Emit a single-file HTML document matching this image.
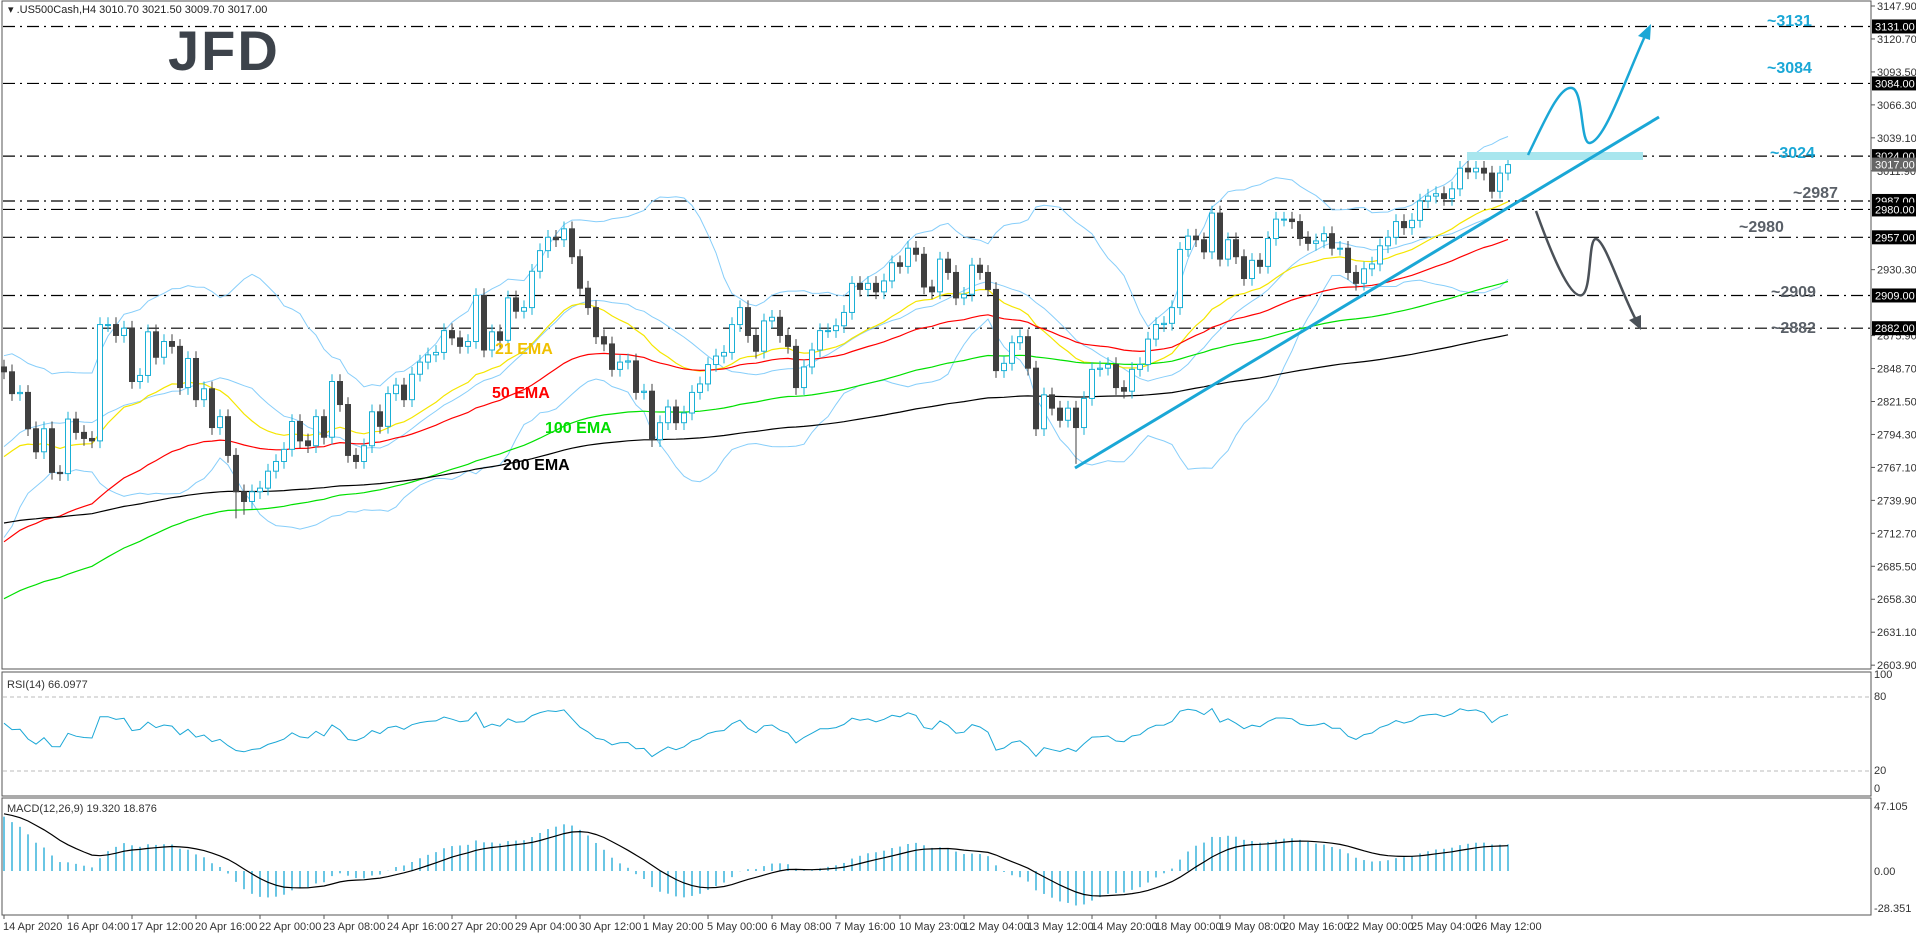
<!DOCTYPE html>
<html><head><meta charset="utf-8"><style>
html,body{margin:0;padding:0;background:#fff;}
svg{display:block;font-family:"Liberation Sans",sans-serif;}
</style></head><body>
<svg id="c" width="1916" height="936" viewBox="0 0 1916 936" xmlns="http://www.w3.org/2000/svg">
<rect x="0" y="0" width="1916" height="936" fill="#fff"/>
<text x="8" y="13" font-size="11" fill="#222">▾ .US500Cash,H4  3010.70 3021.50 3009.70 3017.00</text>
<text x="168" y="70" font-size="56" font-weight="bold" fill="#3d434b" letter-spacing="2">JFD</text>
<g id="g"></g>
</svg>
<script>
const closes=[2846,2828,2829,2799,2780,2799,2763,2762,2807,2796,2791,2789,2885,2885,2876,2882,2838,2843,2879,2858,2871,2867,2833,2857,2823,2832,2800,2809,2777,2747,2739,2747,2750,2764,2772,2782,2805,2789,2785,2809,2792,2838,2819,2777,2772,2785,2813,2801,2828,2835,
2823,2844,2854,2860,2862,2880,2874,2867,2871,2909,2864,2879,2872,2907,2896,2899,2929,2946,2957,2955,2964,2941,2915,2899,2875,2869,2848,2854,2855,2829,2830,2790,2804,2817,2804,2812,2829,2836,2852,2859,2862,2885,2899,2876,2863,2888,2891,2876,2867,
2833,2850,2864,2880,2880,2884,2895,2919,2914,2919,2912,2921,2936,2933,2948,2943,2916,2912,2939,2928,2907,2910,2934,2928,2914,2847,2853,2870,2875,2849,2799,2827,2816,2806,2816,2800,2824,2848,2849,2852,2833,2830,2848,2852,2873,2885,2886,2899,2947,
2958,2955,2945,2977,2939,2955,2941,2923,2938,2933,2956,2972,2972,2970,2956,2952,2954,2960,2948,2948,2928,2919,2931,2935,2950,2957,2970,2965,2971,2987,2991,2993,2989,2997,3014,3011,3014,3010,2995,3010,3017];
const firstOpen=2850;
const wickSize=[6];
const longLows={134:2770,29:2725,30:2728};
const preCloses=[2720,2705,2730,2750,2760,2740,2770,2790,2780,2805,2795,2810,2800,2820,2815,2805,2810,2820,2815];
const emaPeriods=[21,50,100,200];
const emaSeeds=[2769,2700,2655,2720];
const emaColors=["#f5e600","#ff0000","#00e000","#000000"];
const levels=[3131,3084,3024,2987,2980,2957,2909,2882];
const levelText=["~3131","~3084","~3024","~2987","~2980","~2909","~2882"];
const priceTicks=[3147.9,3120.7,3093.5,3066.3,3039.1,3011.9,2930.3,2875.9,2848.7,2821.5,2794.3,2767.1,2739.9,2712.7,2685.5,2658.3,2631.1,2603.9];
const timeLabels=["14 Apr 2020","16 Apr 04:00","17 Apr 12:00","20 Apr 16:00","22 Apr 00:00","23 Apr 08:00","24 Apr 16:00","27 Apr 20:00","29 Apr 04:00","30 Apr 12:00","1 May 20:00","5 May 00:00","6 May 08:00","7 May 16:00","10 May 23:00","12 May 04:00","13 May 12:00","14 May 20:00","18 May 00:00","19 May 08:00","20 May 16:00","22 May 00:00","25 May 04:00","26 May 12:00"];
const rsiSeed=[9,6];
const macdSeed=[2840,2798,42];

const NS="http://www.w3.org/2000/svg";
const G=document.getElementById('g');
function mk(t,a,p){const e=document.createElementNS(NS,t);for(const k in a)e.setAttribute(k,a[k]);(p||G).appendChild(e);return e;}
const xOf=i=>4+i*8;
const yP=p=>6+(3147.9-p)*1.2117;
const yR=v=>771-(v-20)*1.233;
const yM=v=>871-v*1.38;
const RIGHT=1871;

// frames
let f=mk('rect',{x:2,y:1,width:RIGHT-2,height:668,fill:'none',stroke:'#555'});


f=mk('rect',{x:2,y:672,width:RIGHT-2,height:124,fill:'none',stroke:'#555'});


f=mk('rect',{x:2,y:798,width:RIGHT-2,height:117,fill:'none',stroke:'#555'});



// price ticks
priceTicks.forEach(p=>{const y=yP(p);
mk('line',{x1:RIGHT,x2:RIGHT+4,y1:y,y2:y,stroke:'#555'});
const t=mk('text',{x:RIGHT+6,y:y+4,'font-size':11,fill:'#333'});t.textContent=p.toFixed(2);

});

// levels
levels.forEach(l=>{const y=yP(l);
const ln=mk('line',{x1:3,x2:RIGHT,y1:y,y2:y,stroke:'#000','stroke-width':1.2,'stroke-dasharray':'12 5 2 5'});


mk('rect',{x:RIGHT+1,y:y-7,width:45,height:14,fill:'#000'});
const t=mk('text',{x:RIGHT+4,y:y+4,'font-size':11,fill:'#fff'});t.textContent=l.toFixed(2);

});
{const y=yP(closes[closes.length-1]);mk('rect',{x:RIGHT+1,y:y-7,width:45,height:14,fill:'#666'});
const t=mk('text',{x:RIGHT+4,y:y+4,'font-size':11,fill:'#fff'});t.textContent=closes[closes.length-1].toFixed(2);

}

// level annotations
const annPos=[[1767,20,'#1aa7d6'],[1767,67,'#1aa7d6'],[1770,152,'#1aa7d6'],[1793,192,'#5a6068'],[1739,226,'#5a6068'],[1771,291,'#5a6068'],[1771,327,'#5a6068']];
levelText.forEach((s,i)=>{const t=mk('text',{x:annPos[i][0],y:annPos[i][1]+6,'font-size':16,'font-weight':'bold',fill:annPos[i][2]});t.textContent=s;

});

// indicators
const all=preCloses.concat(closes);const P=preCloses.length;
function path(pts,attrs,name){const d=pts.map((p,i)=>(i?'L':'M')+p[0].toFixed(1)+' '+p[1].toFixed(1)).join('');const e=mk('path',Object.assign({d,fill:'none'},attrs));return e;}
// bollinger
const bu=[],bm=[],bl=[];
closes.forEach((c,i)=>{const w=all.slice(i+P-19,i+P+1);const m=w.reduce((a,b)=>a+b,0)/w.length;const sd=Math.sqrt(w.reduce((a,b)=>a+(b-m)*(b-m),0)/w.length);
bu.push([xOf(i),yP(m+2*sd)]);bm.push([xOf(i),yP(m)]);bl.push([xOf(i),yP(m-2*sd)]);});
path(bu,{stroke:'#87cefa','stroke-width':1},'bollinger-upper');
path(bm,{stroke:'#87cefa','stroke-width':1},'bollinger-middle');
path(bl,{stroke:'#87cefa','stroke-width':1},'bollinger-lower');
// emas
emaPeriods.forEach((n,k)=>{let e=emaSeeds[k];const a=2/(n+1);const pts=[];closes.forEach((c,i)=>{e=e+a*(c-e);pts.push([xOf(i),yP(e)]);});
path(pts,{stroke:emaColors[k],'stroke-width':1.2},'ema-'+n);});
// candles
closes.forEach((c,i)=>{const o=i?closes[i-1]:firstOpen;const up=c>=o;const x=xOf(i);
const hi=Math.max(o,c)+wickSize[0];const lo=(longLows[i]!==undefined)?longLows[i]:Math.min(o,c)-wickSize[0];
const col=up?'#1ab0d6':'#404040';
const wk=mk('line',{x1:x,x2:x,y1:yP(hi),y2:yP(lo),stroke:col,'stroke-width':1});


const yt=yP(Math.max(o,c)),yb=yP(Math.min(o,c));
const b=mk('rect',{x:x-2.5,y:yt,width:5,height:Math.max(1,yb-yt),fill:up?'#fff':'#404040',stroke:col,'stroke-width':1});

});

// drawings
let d=mk('rect',{x:1467,y:152,width:176,height:8,fill:'#a8e6ee'});


d=mk('line',{x1:1075,y1:468,x2:1659,y2:117,stroke:'#1aa7d6','stroke-width':3});


d=mk('path',{d:'M1528 155 C1545 120 1560 85 1572 88 C1584 91 1580 145 1590 143 C1605 140 1625 80 1645 36',fill:'none',stroke:'#1aa7d6','stroke-width':2.5});


d=mk('polygon',{points:'1651,24 1638,36 1650,40',fill:'#1aa7d6'});


d=mk('path',{d:'M1536 211 C1550 250 1570 300 1582 295 C1592 290 1588 238 1596 239 C1605 240 1620 290 1636 320',fill:'none',stroke:'#4b5158','stroke-width':2.5});


d=mk('polygon',{points:'1641,330 1629,320 1641,315',fill:'#4b5158'});


// EMA labels
[['21 EMA',533,354,'#f0c000'],['50 EMA',530,398,'#ff0000'],['100 EMA',583,433,'#00dd00'],['200 EMA',541,470,'#000']].forEach(a=>{const t=mk('text',{x:a[1]-38,y:a[2],'font-size':16,'font-weight':'bold',fill:a[3]});t.textContent=a[0];

});

// RSI
[80,20].forEach(v=>{const l=mk('line',{x1:3,x2:RIGHT,y1:yR(v),y2:yR(v),stroke:'#bbb','stroke-dasharray':'4 3'});

});
[[100,678],[80,700],[20,774],[0,792]].forEach(a=>{const t=mk('text',{x:RIGHT+3,y:a[1],'font-size':11,fill:'#333'});t.textContent=a[0];

});
let ag=rsiSeed[0],al=rsiSeed[1];const rp=[];
closes.forEach((c,i)=>{const prev=i?closes[i-1]:firstOpen;const ch=c-prev;ag=(ag*13+Math.max(ch,0))/14;al=(al*13+Math.max(-ch,0))/14;const r=100-100/(1+ag/al);rp.push([xOf(i),yR(r)]);});
path(rp,{stroke:'#1aa7d6','stroke-width':1},'rsi-line');
let t=mk('text',{x:7,y:688,'font-size':11,fill:'#333'});t.textContent='RSI(14) 66.0977';



// MACD
let e12=macdSeed[0],e26=macdSeed[1],sig=macdSeed[2];const sp=[];
closes.forEach((c,i)=>{e12+=2/13*(c-e12);e26+=2/27*(c-e26);const m=e12-e26;sig+=0.2*(m-sig);const x=xOf(i);
const h=mk('line',{x1:x,x2:x,y1:yM(0),y2:yM(m),stroke:'#1aa7d6','stroke-width':1.3});


sp.push([x,yM(sig)]);});
path(sp,{stroke:'#000','stroke-width':1.2},'macd-signal-line');
[[47.105,'47.105',810],[0,'0.00',875],[-28.351,'-28.351',912]].forEach(a=>{const tt=mk('text',{x:RIGHT+3,y:a[2],'font-size':11,fill:'#333'});tt.textContent=a[1];

});
t=mk('text',{x:7,y:812,'font-size':11,fill:'#333'});t.textContent='MACD(12,26,9) 19.320 18.876';



// time axis
timeLabels.forEach((s,i)=>{const x=xOf(i*8);mk('line',{x1:x,x2:x,y1:915,y2:919,stroke:'#555'});
const tt=mk('text',{x:x-1,y:930,'font-size':11,fill:'#333'});tt.textContent=s;

});
</script>
</body></html>
